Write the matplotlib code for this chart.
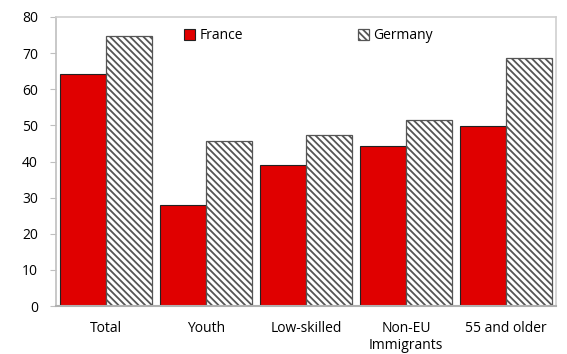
import matplotlib
matplotlib.use("Agg")
import matplotlib.pyplot as plt
import numpy as np

categories = ["Total", "Youth", "Low-skilled", "Non-EU\nImmigrants", "55 and older"]
france = [64.3, 28.0, 39.0, 44.4, 49.9]
germany = [74.8, 45.8, 47.2, 51.5, 68.7]

plt.rcParams['font.family'] = ['Open Sans', 'DejaVu Sans']
plt.rcParams['hatch.color'] = '#7a7a7a'
plt.rcParams['hatch.linewidth'] = 1.3

fig = plt.figure(figsize=(5.67, 3.54), dpi=100)
ax = fig.add_axes([56/567, 1-306/354, 500/567, 289/354])

x = np.arange(len(categories))
w = 0.46
ax.bar(x - w/2, france, w, color='#e00000', edgecolor='#222222', linewidth=0.8, label='France')
ax.bar(x + w/2, germany, w, color='white', edgecolor='#555555', linewidth=0.9,
       hatch='\\\\\\\\\\', label='Germany')

ax.set_xlim(-0.5, len(categories) - 0.5)
ax.set_ylim(0, 80)
ax.set_yticks(range(0, 81, 10))
ax.set_xticks(x)
ax.set_xticklabels(categories, fontsize=10)
ax.tick_params(axis='y', labelsize=10, length=4, color='#bfbfbf', width=0.8, pad=9)
ax.tick_params(axis='x', length=0, pad=11)
for s in ax.spines.values():
    s.set_color('#d0d0d0')
    s.set_linewidth(1.2)
ax.spines['left'].set_color('#bfbfbf')
ax.spines['bottom'].set_color('#b0b0b0')
ax.spines['bottom'].set_linewidth(1.5)

leg = ax.legend(loc='upper center', bbox_to_anchor=(0.505, 1.005), ncol=2, frameon=False,
                fontsize=10, handlelength=0.8, handleheight=0.8, handletextpad=0.3,
                columnspacing=8.3)

fig.savefig("out.png", dpi=100)
